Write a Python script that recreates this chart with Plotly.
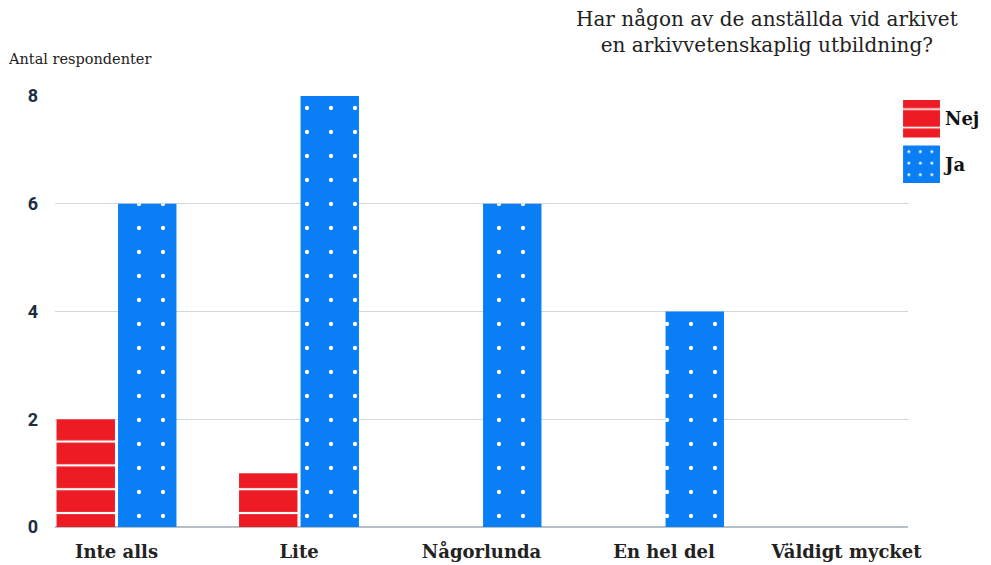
import plotly.graph_objects as go

categories = ["Inte alls", "Lite", "Någorlunda", "En hel del", "Väldigt mycket"]
nej = [2, 1, 0, 0, 0]
ja = [6, 8, 6, 4, 0]
y_ticks = [0, 2, 4, 6, 8]

red = "#ed1c24"
blue = "#0a7ff5"
serif = "DejaVu Serif"

fig = go.Figure()
fig.add_trace(go.Bar(
    x=categories, y=nej, name="Nej",
    marker=dict(color=red, line=dict(width=0),
                pattern=dict(shape="-", bgcolor=red, fgcolor="white",
                             size=23.83, solidity=0.09, fillmode="replace")),
    showlegend=False))
fig.add_trace(go.Bar(
    x=categories, y=ja, name="Ja",
    marker=dict(color=blue, line=dict(width=0),
                pattern=dict(shape=".", bgcolor=blue, fgcolor="white",
                             size=24, solidity=0.025, fillmode="replace")),
    showlegend=False))

# legend boxes drawn as a tiny horizontal bar chart
fig.add_trace(go.Bar(
    y=["Nej"], x=[1], orientation="h", xaxis="x2", yaxis="y2",
    width=0.824, offset=-0.412,
    marker=dict(color=red, line=dict(width=0),
                pattern=dict(shape="-", bgcolor=red, fgcolor="white",
                             size=18.5, solidity=0.09, fillmode="replace")),
    showlegend=False, hoverinfo="skip"))
fig.add_trace(go.Bar(
    y=["Ja"], x=[1], orientation="h", xaxis="x2", yaxis="y2",
    width=0.824, offset=-0.412,
    marker=dict(color=blue, line=dict(width=0),
                pattern=dict(shape=".", bgcolor=blue, fgcolor="white",
                             size=11.5, solidity=0.05, fillmode="replace")),
    showlegend=False, hoverinfo="skip"))

fig.update_layout(
    width=991, height=565,
    paper_bgcolor="white", plot_bgcolor="white",
    margin=dict(l=47, r=10, t=88, b=46),
    barmode="group", bargap=0.326, bargroupgap=0.05,
    font=dict(family=serif, color="#222222"),
    xaxis=dict(domain=[0, 0.9133], range=[-0.337, 4.337], showgrid=False,
               showline=False, ticks="", automargin=False, ticklabelstandoff=12,
               tickfont=dict(family=serif, size=18, weight="bold", color="#222222")),
    yaxis=dict(range=[0, 8], tickvals=y_ticks, showgrid=True, gridcolor="#d3d7dc",
               gridwidth=1, zeroline=True, zerolinecolor="#b7bfc7", zerolinewidth=2,
               ticklabelstandoff=16, automargin=False,
               tickfont=dict(family="Roboto", size=18, weight="bold", color="#1b2d42")),
    xaxis2=dict(domain=[0.908, 0.9475], range=[0, 1], visible=False, anchor="y2",
                automargin=False),
    yaxis2=dict(domain=[0.798, 0.991], anchor="x2", side="right", showgrid=False,
                showline=False, ticks="", ticklabelstandoff=4, automargin=False,
                range=[-0.412, 1.412],
                categoryorder="array", categoryarray=["Ja", "Nej"],
                tickfont=dict(family=serif, size=18, weight="bold", color="#111111")),
)

fig.update_layout(
    annotations=[
        dict(text="Har någon av de anställda vid arkivet<br>en arkivvetenskaplig utbildning?",
             xref="paper", yref="paper", x=0.762, y=1.21, xanchor="center", yanchor="top",
             showarrow=False, align="center",
             font=dict(family=serif, size=20, color="#222222")),
        dict(text="Antal respondenter", xref="paper", yref="paper",
             x=-0.052, y=1.085, xanchor="left", yanchor="middle", showarrow=False,
             font=dict(family=serif, size=14.5, color="#222222")),
    ]
)

fig.write_html("out.html")
